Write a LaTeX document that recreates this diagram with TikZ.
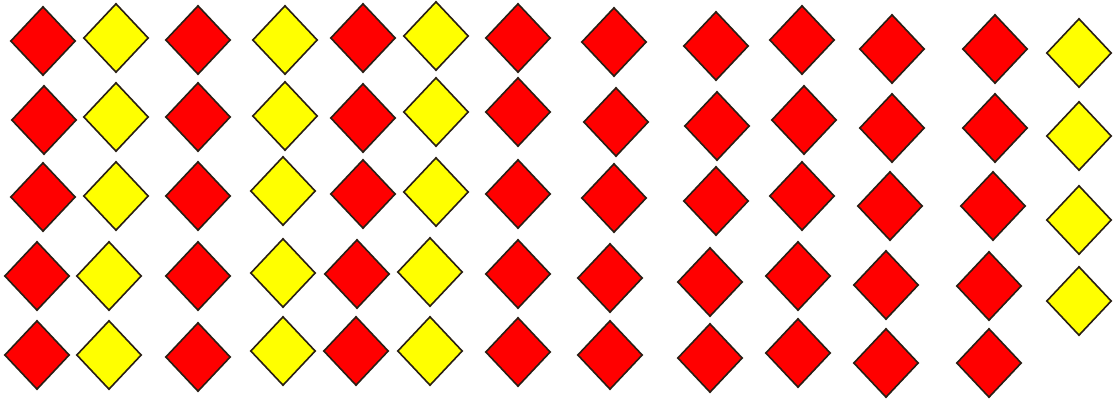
\documentclass[tikz,border=0pt]{standalone}
\usetikzlibrary{shapes.geometric}
\definecolor{dred}{RGB}{255,0,0}
\definecolor{dyel}{RGB}{255,255,0}
\definecolor{dline}{RGB}{40,30,20}
\tikzset{
  dia/.style={diamond, draw=dline, line width=1.6pt, minimum width=65pt, minimum height=69pt, inner sep=0pt, aspect=1},
  rd/.style={dia, fill=dred},
  yd/.style={dia, fill=dyel}
}
\begin{document}
\begin{tikzpicture}[x=1pt,y=-1pt]
\useasboundingbox (0,0) rectangle (1113,400);
\fill[white] (0,0) rectangle (1113,400);
\foreach \n/\x/\y/\s in {
 a1/43/41/rd, a2/44/120/rd, a3/43/197/rd, a4/37/276/rd, a5/37/355/rd,
 b1/116/38/yd, b2/116/117/yd, b3/116/196/yd, b4/109/276/yd, b5/109/355/yd,
 c1/198/40/rd, c2/198/117/rd, c3/198/196/rd, c4/198/276/rd, c5/198/357/rd,
 e1/285/40/yd, e2/285/116/yd, e3/283/191/yd, e4/283/273/yd, e5/283/351/yd,
 f1/363/38/rd, f2/363/118/rd, f3/363/194/rd, f4/357/274/rd, f5/356/351/rd,
 g1/436/36/yd, g2/436/112/yd, g3/436/192/yd, g4/430/272/yd, g5/430/351/yd,
 h1/518/38/rd, h2/518/112/rd, h3/518/194/rd, h4/518/274/rd, h5/518/352/rd,
 i1/614/42/rd, i2/616/122/rd, i3/614/198/rd, i4/610/278/rd, i5/610/355/rd,
 j1/716/46/rd, j2/717/126/rd, j3/716/201/rd, j4/710/282/rd, j5/710/358/rd,
 k1/802/40/rd, k2/804/120/rd, k3/802/196/rd, k4/798/276/rd, k5/798/353/rd,
 l1/892/49/rd, l2/892/128/rd, l3/890/206/rd, l4/886/285/rd, l5/886/363/rd,
 m1/995/49/rd, m2/995/128/rd, m3/993/206/rd, m4/989/286/rd, m5/989/363/rd,
 o1/1079/53/yd, o2/1079/136/yd, o3/1079/220/yd, o4/1079/301/yd}
  \node[\s] (\n) at (\x,\y) {};
\end{tikzpicture}
\end{document}
